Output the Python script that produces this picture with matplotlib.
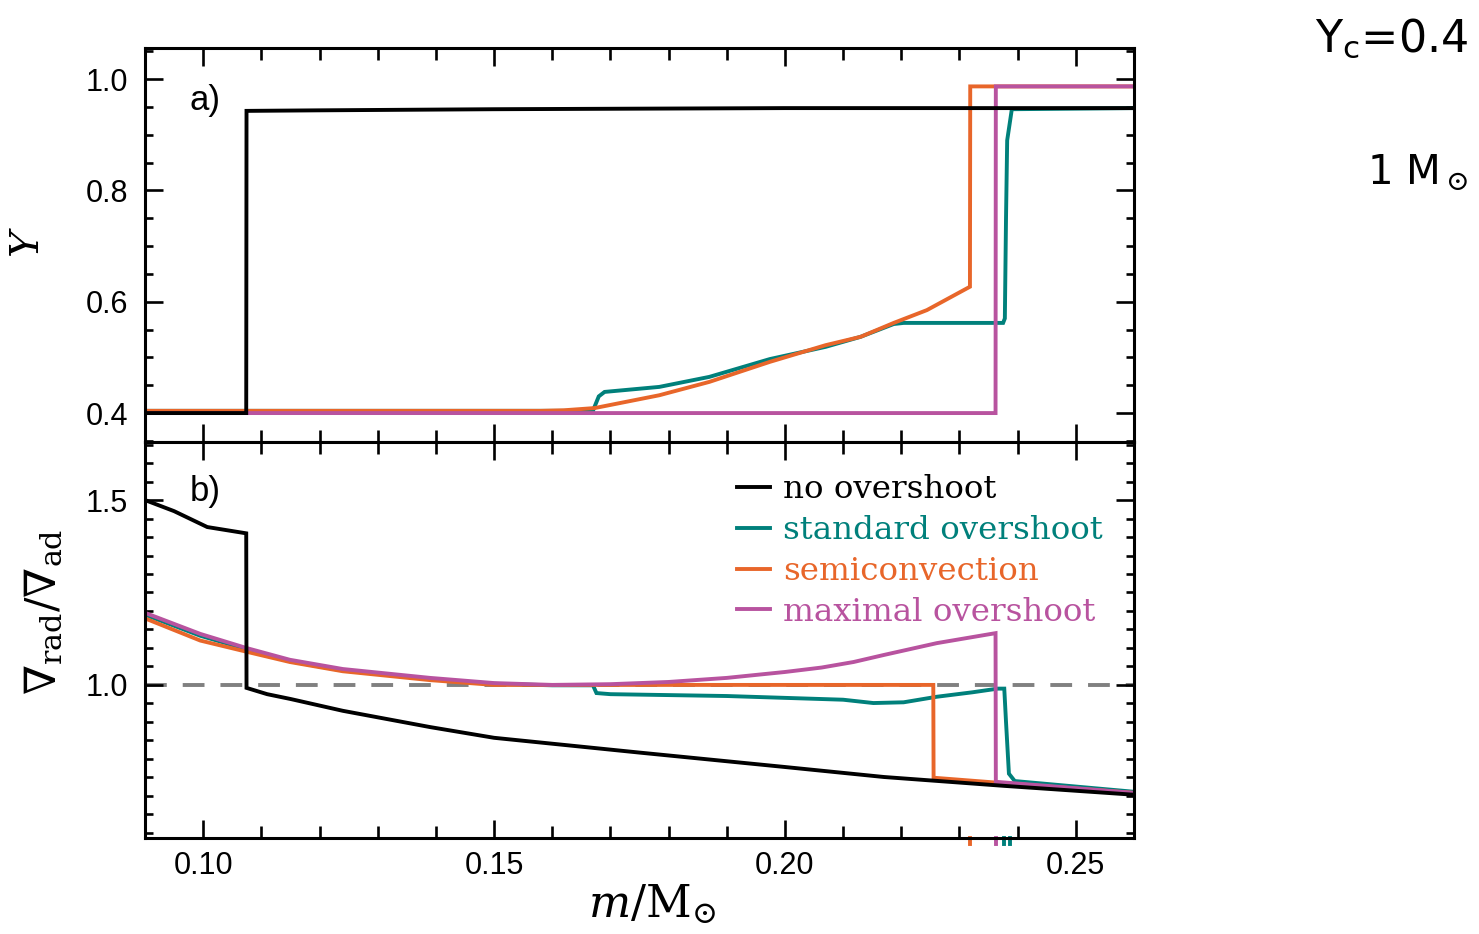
import matplotlib
matplotlib.use("Agg")
import matplotlib.pyplot as plt
import matplotlib.transforms as mtransforms
from matplotlib.ticker import MultipleLocator, FormatStrFormatter

plt.rcParams['mathtext.fontset'] = 'dejavuserif'

# ---------------- data ----------------
# panel a) helium mass fraction Y vs m/Msun
m_no_a = [0.09, 0.1074, 0.10745, 0.12, 0.15, 0.20, 0.26]
Y_no = [0.400, 0.400, 0.943, 0.944, 0.946, 0.948, 0.948]

m_std_a = [0.09, 0.1670, 0.1673, 0.1680, 0.1690, 0.1784, 0.187, 0.1974, 0.207,
           0.213, 0.2187, 0.2204, 0.2375, 0.2378, 0.2380, 0.2382, 0.2390, 0.26]
Y_std = [0.404, 0.404, 0.412, 0.430, 0.438, 0.447, 0.465, 0.497, 0.519,
         0.537, 0.560, 0.562, 0.562, 0.570, 0.750, 0.890, 0.946, 0.948]

m_semi_a = [0.09, 0.158, 0.162, 0.1673, 0.1784, 0.187, 0.1974, 0.207, 0.213,
            0.2187, 0.2244, 0.2318, 0.23185, 0.26]
Y_semi = [0.404, 0.404, 0.405, 0.409, 0.432, 0.456, 0.492, 0.522, 0.537,
          0.562, 0.585, 0.627, 0.987, 0.987]

m_max_a = [0.09, 0.2362, 0.23625, 0.26]
Y_max = [0.400, 0.400, 0.987, 0.987]

# panel b) nabla_rad / nabla_ad vs m/Msun
m_no_b = [0.09, 0.095, 0.1007, 0.1074, 0.10745, 0.111, 0.115, 0.124, 0.139,
          0.15, 0.175, 0.20, 0.217, 0.2377, 0.26]
G_no = [1.500, 1.470, 1.427, 1.410, 0.992, 0.975, 0.962, 0.930, 0.886,
        0.857, 0.817, 0.778, 0.751, 0.727, 0.703]

m_std_b = [0.09, 0.0995, 0.1074, 0.1149, 0.124, 0.139, 0.15, 0.16, 0.1670,
           0.1676, 0.170, 0.19, 0.21, 0.2152, 0.2204, 0.2261, 0.2322, 0.2366,
           0.2377, 0.2380, 0.2385, 0.2395, 0.26]
G_std = [1.190, 1.133, 1.097, 1.064, 1.039, 1.016, 1.003, 0.999, 0.999,
         0.978, 0.975, 0.970, 0.960, 0.951, 0.953, 0.968, 0.980, 0.990,
         0.990, 0.900, 0.760, 0.740, 0.711]

m_semi_b = [0.09, 0.0995, 0.1074, 0.1149, 0.124, 0.139, 0.15, 0.16, 0.2255,
            0.22555, 0.2362, 0.26]
G_semi = [1.180, 1.120, 1.090, 1.062, 1.037, 1.013, 1.000, 1.000, 1.000,
          0.749, 0.736, 0.708]

m_max_b = [0.09, 0.0995, 0.1074, 0.1149, 0.124, 0.139, 0.15, 0.16, 0.17,
           0.18, 0.19, 0.20, 0.2063, 0.2118, 0.217, 0.2261, 0.2362, 0.23625,
           0.245, 0.26]
G_max = [1.195, 1.138, 1.100, 1.068, 1.043, 1.019, 1.005, 1.000, 1.002,
         1.008, 1.019, 1.035, 1.047, 1.062, 1.081, 1.113, 1.140, 0.738,
         0.727, 0.708]

# convective-core edge markers below panel b
edge_m = [0.2318, 0.2362, 0.2377, 0.2386]
edge_keys = ['semi', 'max', 'std', 'std']

labels = {'no': 'no overshoot', 'std': 'standard overshoot',
          'semi': 'semiconvection', 'max': 'maximal overshoot'}
colors = {'no': '#000000', 'std': '#00807b', 'semi': '#e8662a', 'max': '#b8539f'}

# ---------------- figure ----------------
W, H = 1479, 934
fig = plt.figure(figsize=(W / 100, H / 100), dpi=100)
left, right = 145 / W, 1134 / W
axa = fig.add_axes([left, 1 - 442 / H, right - left, (442 - 48) / H])
axb = fig.add_axes([left, 1 - 838 / H, right - left, (838 - 442) / H], sharex=axa)

lw = 2.8
tickfont = 'Liberation Sans'

series_a = [('std', m_std_a, Y_std), ('semi', m_semi_a, Y_semi),
            ('max', m_max_a, Y_max), ('no', m_no_a, Y_no)]
series_b = [('std', m_std_b, G_std), ('semi', m_semi_b, G_semi),
            ('max', m_max_b, G_max), ('no', m_no_b, G_no)]

for k, m, y in series_a:
    axa.plot(m, y, color=colors[k], lw=lw, solid_joinstyle='miter')

axb.axhline(1.0, color='#808080', lw=lw, dashes=(5.6, 4.1), zorder=1)
handles = {}
for k, m, y in series_b:
    handles[k], = axb.plot(m, y, color=colors[k], lw=lw, label=labels[k],
                           solid_joinstyle='miter')

trans = mtransforms.blended_transform_factory(axb.transData, axb.transAxes)
for xm, k in zip(edge_m, edge_keys):
    axb.plot([xm, xm], [0.0, -0.015], color=colors[k], lw=lw,
             transform=trans, clip_on=False)

axa.set_xlim(0.09, 0.26)
axa.set_ylim(0.348, 1.056)
axb.set_ylim(0.586, 1.657)

axa.yaxis.set_major_locator(MultipleLocator(0.2))
axa.yaxis.set_minor_locator(MultipleLocator(0.05))
axa.yaxis.set_major_formatter(FormatStrFormatter('%.1f'))
axb.yaxis.set_major_locator(MultipleLocator(0.5))
axb.yaxis.set_minor_locator(MultipleLocator(0.05))
axb.yaxis.set_major_formatter(FormatStrFormatter('%.1f'))
axb.xaxis.set_major_formatter(FormatStrFormatter('%.2f'))

for ax in (axa, axb):
    ax.xaxis.set_major_locator(MultipleLocator(0.05))
    ax.xaxis.set_minor_locator(MultipleLocator(0.01))
    ax.tick_params(which='both', direction='in', top=True, right=True,
                   width=1.9, labelsize=22)
    ax.tick_params(axis='x', which='major', length=13, pad=9)
    ax.tick_params(axis='x', which='minor', length=8.5)
    ax.tick_params(axis='y', which='major', length=13, pad=12)
    ax.tick_params(axis='y', which='minor', length=6)
    for s in ax.spines.values():
        s.set_linewidth(2.2)

axa.tick_params(axis='x', labelbottom=False)

for ax in (axa, axb):
    for t in ax.get_xticklabels() + ax.get_yticklabels():
        t.set_fontfamily(tickfont)

axa.set_ylabel('$Y$', fontsize=29)
axb.set_ylabel(r'$\nabla_{\rm rad}/\nabla_{\rm ad}$', fontsize=31)
axb.set_xlabel(r'$m/\mathrm{M}_{\odot}$', fontsize=32)
axa.yaxis.set_label_coords(-0.098, 0.508)
axb.yaxis.set_label_coords(-0.081, 0.571)
axb.xaxis.set_label_coords(0.513, -0.112)

axa.text(0.045, 0.868, 'a)', transform=axa.transAxes, fontsize=25,
         family=tickfont, va='center', ha='left')
axb.text(0.045, 0.874, 'b)', transform=axb.transAxes, fontsize=25,
         family=tickfont, va='center', ha='left')

leg = axb.legend(handles=[handles['no'], handles['std'], handles['semi'], handles['max']],
                 loc='upper left', bbox_to_anchor=(0.5986, 0.918), frameon=False,
                 prop={'family': 'DejaVu Serif', 'size': 23.4}, labelcolor='linecolor',
                 handlelength=1.0, handletextpad=0.42, labelspacing=0.3,
                 borderpad=0, borderaxespad=0)

fig.text(0.9926, 0.958, r'Y$_\mathsf{c}$=0.4', ha='right', va='center', fontsize=32,
         family='DejaVu Sans')
fig.text(0.9926, 0.815, r'1 M$_\odot$', ha='right', va='center', fontsize=29,
         family='DejaVu Sans')

fig.savefig('out.png', dpi=100)
